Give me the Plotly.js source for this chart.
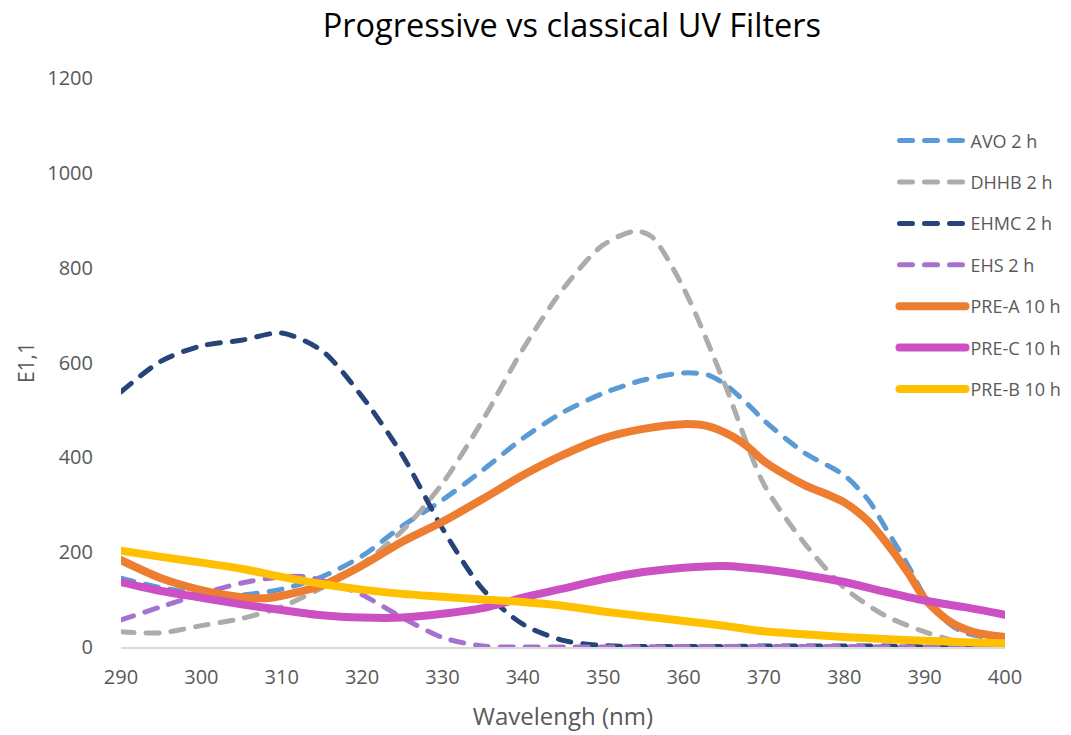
<!DOCTYPE html>
<html>
<head>
<meta charset="utf-8">
<script src="https://cdn.plot.ly/plotly-3.0.1.min.js"></script>
<style>
  html, body { margin: 0; padding: 0; background: #fff; }
  #chart { width: 1071px; height: 735px; }
  /* rounded ends on every curve and legend sample */
  .js-line { stroke-linecap: round !important; stroke-linejoin: round !important; }
</style>
</head>
<body>
<div id="chart"></div>
<script>
// Absorbance spectra, E1,1 vs wavelength (nm)
const avoX  = [290,295,300,305,310,315,320,325,330,335,340,345,350,355,360,363,365,368,370,375,380,383,385,388,390,393,395,400];
const avoY  = [145,125,112,110,122,148,192,255,310,373,440,495,535,563,578,574,556,512,478,410,362,310,255,170,108,50,30,15];

const dhhbX = [290,295,300,305,310,315,320,325,330,335,340,345,350,354,356,360,365,370,375,380,385,390,395,400];
const dhhbY = [32,30,45,60,85,125,175,245,345,478,628,755,848,877,866,757,560,343,220,125,67,32,8,2];

const ehmcX = [290,295,300,305,310,315,320,325,330,335,340,345,350,355,360,365,370,375,380,385,390,395,400];
const ehmcY = [538,603,635,647,662,625,528,405,250,122,48,14,3,1,1,1,2,2,2,2,1,1,0];

const ehsX  = [290,295,300,305,310,313,316,320,325,330,335,340,345,350,360,370,380,390,400];
const ehsY  = [57,85,112,135,148,148,135,110,62,20,2,0,0,0,1,1,1,0,0];

const preAX = [290,295,300,305,308,310,315,320,325,330,335,340,345,350,355,360,363,366,368,370,372,375,380,383,385,388,390,393,396,400];
const preAY = [183,145,120,105,103,108,130,172,222,264,312,362,405,440,460,470,466,445,422,392,370,342,305,265,225,155,102,55,32,21];

const preCX = [290,295,300,305,310,315,320,325,330,335,340,345,350,355,360,365,370,375,380,385,390,395,400];
const preCY = [137,118,104,90,78,67,62,62,70,82,104,123,143,158,167,171,164,152,137,117,98,84,68];

const preBX = [290,295,300,305,310,315,320,325,330,335,340,345,350,355,360,365,370,375,380,385,390,395,400];
const preBY = [203,190,178,165,148,133,121,112,106,100,95,87,75,65,55,45,33,27,21,17,13,10,8];

const seriesNames = ['AVO 2 h','DHHB 2 h','EHMC 2 h','EHS 2 h','PRE-A 10 h','PRE-C 10 h','PRE-B 10 h'];

const DASH = '13px,12px';
function trace(x, y, name, color, width, dash) {
  return {
    x: x, y: y, name: name, type: 'scatter', mode: 'lines',
    line: { color: color, width: width, dash: dash, shape: 'spline', smoothing: 0.8 },
    legendgroup: name, hoverinfo: 'skip'
  };
}

const data = [
  trace(avoX,  avoY,  seriesNames[0], '#5B9BD5', 5, DASH),
  trace(dhhbX, dhhbY, seriesNames[1], '#AEABAB', 5, DASH),
  trace(ehmcX, ehmcY, seriesNames[2], '#264478', 5, DASH),
  trace(ehsX,  ehsY,  seriesNames[3], '#A672D0', 5, DASH),
  trace(preAX, preAY, seriesNames[4], '#ED7D31', 8, 'solid'),
  trace(preCX, preCY, seriesNames[5], '#CC4FC3', 8, 'solid'),
  trace(preBX, preBY, seriesNames[6], '#FFC000', 8, 'solid')
];

const FONT = '"Open Sans", Lato, sans-serif';
const layout = {
  width: 1071, height: 735,
  paper_bgcolor: '#ffffff', plot_bgcolor: '#ffffff',
  margin: { l: 121, r: 66, t: 78, b: 88, pad: 0, autoexpand: false },
  font: { family: FONT, color: '#595959', size: 20 },
  title: {
    text: 'Progressive vs classical UV Filters',
    font: { family: FONT, size: 32.5, color: '#000000' },
    x: 0.51, xref: 'paper', xanchor: 'center',
    y: 0.965, yref: 'container', yanchor: 'middle'
  },
  xaxis: {
    range: [290, 400], dtick: 10, tick0: 290,
    showgrid: false, zeroline: false,
    showline: true, linecolor: '#D9D9D9', linewidth: 2,
    ticks: 'outside', ticklen: 11, tickcolor: 'rgba(0,0,0,0)',
    tickfont: { size: 20, color: '#595959' },
    title: { text: 'Wavelengh (nm)', font: { size: 24, color: '#595959' }, standoff: 19 },
    fixedrange: true
  },
  yaxis: {
    range: [0, 1200], dtick: 200,
    showgrid: false, zeroline: false, showline: false,
    ticks: 'outside', ticklen: 23, tickcolor: 'rgba(0,0,0,0)',
    tickfont: { size: 20, color: '#595959' },
    title: { text: 'E1,1', font: { size: 21, color: '#595959' }, standoff: 6 },
    fixedrange: true
  },
  showlegend: true,
  legend: {
    x: 0.875, y: 0.922, xanchor: 'left', yanchor: 'top',
    bgcolor: 'rgba(0,0,0,0)', borderwidth: 0,
    font: { size: 18, color: '#595959' },
    itemwidth: 66, tracegroupgap: 15,
    traceorder: 'grouped'
  }
};

Plotly.newPlot('chart', data, layout, { staticPlot: true, displayModeBar: false });
</script>
</body>
</html>
